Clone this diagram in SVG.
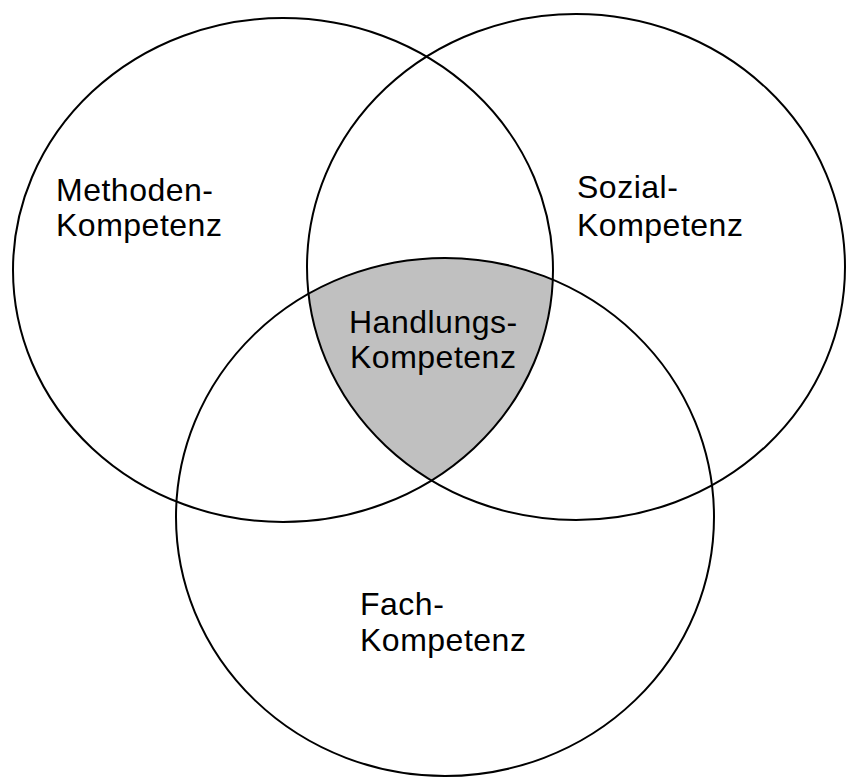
<svg xmlns="http://www.w3.org/2000/svg" width="846" height="779" viewBox="0 0 846 779">
<style>
.c{fill:none;stroke:#000;stroke-width:2}
.t{font-family:"Liberation Sans",Arial,sans-serif;font-size:32px;letter-spacing:0.5px;fill:#000}
</style>
<defs>
<clipPath id="cl"><ellipse cx="283" cy="270" rx="270" ry="252"/></clipPath>
<clipPath id="cr"><ellipse cx="576" cy="267" rx="269" ry="253"/></clipPath>
</defs>
<rect width="846" height="779" fill="#fff"/>
<g id="handlungs-fill" clip-path="url(#cl)"><g clip-path="url(#cr)"><ellipse cx="445" cy="517" rx="269" ry="259" fill="#c0c0c0"/></g></g>
<g id="methoden"><ellipse class="c" cx="283" cy="270" rx="270" ry="252"/>
<text class="t" x="56" y="201">Methoden-</text><text class="t" x="56" y="236">Kompetenz</text></g>
<g id="sozial"><ellipse class="c" cx="576" cy="267" rx="269" ry="253"/>
<text class="t" x="577" y="198">Sozial-</text><text class="t" x="577" y="236">Kompetenz</text></g>
<g id="fach"><ellipse class="c" cx="445" cy="517" rx="269" ry="259"/>
<text class="t" x="360" y="615">Fach-</text><text class="t" x="360" y="651">Kompetenz</text></g>
<g id="handlungs"><text class="t" x="349" y="333">Handlungs-</text><text class="t" x="350" y="368">Kompetenz</text></g>
<g id="connectors"/>
</svg>
